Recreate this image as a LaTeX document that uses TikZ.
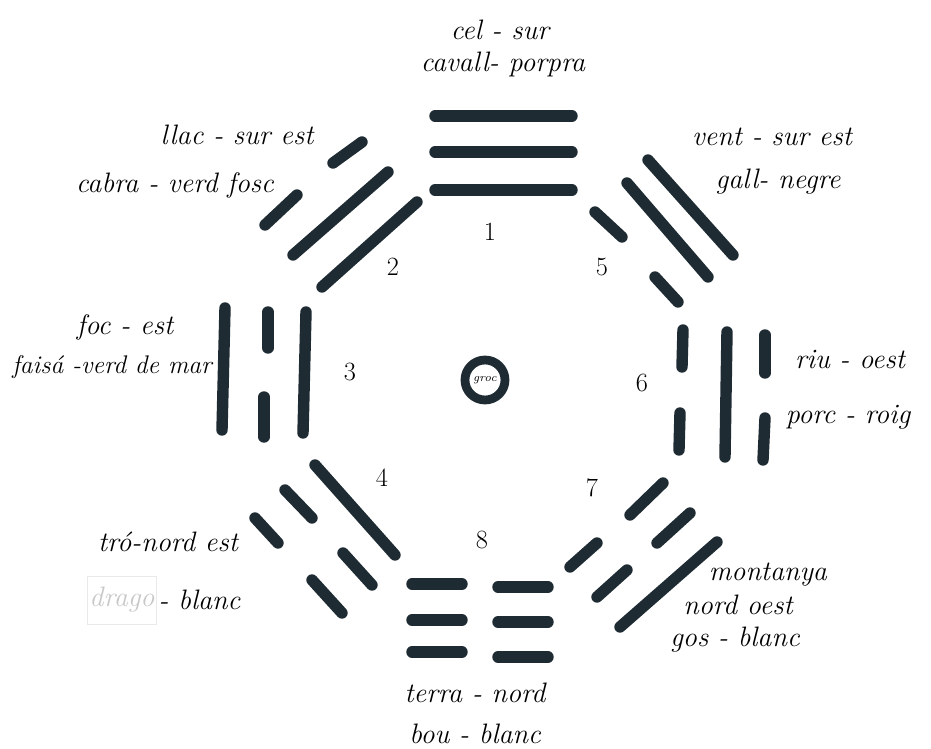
\documentclass[tikz,border=0pt]{standalone}
\usepackage{tikz}
\usetikzlibrary{positioning}
\definecolor{inkDark}{HTML}{1F2B33}
\definecolor{fadedGray}{HTML}{C8C8C8}

\begin{document}
\begin{tikzpicture}[x=0.02cm, y=-0.02cm,
    bar/.style={draw=inkDark, line width=6.5pt, line cap=round},
    lbl/.style={font=\fontsize{16}{19}\selectfont\itshape, inner sep=1pt},
    num/.style={font=\fontsize{15}{18}\selectfont, inner sep=1pt},
    centre/.style={circle, draw=inkDark, line width=5pt, minimum size=40*0.02cm,
      inner sep=0pt, font=\fontsize{6.5}{8}\selectfont\itshape}]
    \useasboundingbox (0,0) rectangle (931,749);
    % cel (1)
    \draw[bar] (435,116) -- (572,116);
    \draw[bar] (435,152) -- (572,152);
    \draw[bar] (435,190) -- (572,190);
    % llac (2)
    \draw[bar] (362,142) -- (333,163);
    \draw[bar] (297,195) -- (265,225);
    \draw[bar] (388,172) -- (293,255);
    \draw[bar] (417,202) -- (322,287);
    % foc (3)
    \draw[bar] (225,308) -- (222,430);
    \draw[bar] (268,312) -- (268,348);
    \draw[bar] (264,397) -- (264,437);
    \draw[bar] (306,312) -- (303,433);
    % vent (5)
    \draw[bar] (648,160) -- (733,255);
    \draw[bar] (627,183) -- (708,277);
    \draw[bar] (595,212) -- (622,237);
    \draw[bar] (655,277) -- (678,302);
    % riu (6)
    \draw[bar] (683,330) -- (682,367);
    \draw[bar] (680,413) -- (679,450);
    \draw[bar] (727,332) -- (725,457);
    \draw[bar] (765,335) -- (765,373);
    \draw[bar] (765,418) -- (763,460);
    % tro (4)
    \draw[bar] (315,465) -- (395,555);
    \draw[bar] (285,490) -- (312,518);
    \draw[bar] (343,553) -- (372,585);
    \draw[bar] (255,518) -- (278,543);
    \draw[bar] (312,580) -- (342,613);
    % montanya (7)
    \draw[bar] (663,483) -- (630,515);
    \draw[bar] (597,543) -- (570,567);
    \draw[bar] (690,513) -- (657,543);
    \draw[bar] (627,570) -- (597,597);
    \draw[bar] (717,542) -- (620,627);
    % terra (8)
    \draw[bar] (412,584) -- (462,584);
    \draw[bar] (412,620) -- (462,620);
    \draw[bar] (412,652) -- (462,652);
    \draw[bar] (498,587) -- (548,587);
    \draw[bar] (498,622) -- (548,622);
    \draw[bar] (498,657) -- (548,657);

    \node[centre] (groc) at (485,380) {groc};

    \node[num] (n1) at (490,232) {1};
    \node[num] (n2) at (393,267) {2};
    \node[num] (n3) at (350,372) {3};
    \node[num] (n4) at (382,478) {4};
    \node[num] (n5) at (602,267) {5};
    \node[num] (n6) at (642,383) {6};
    \node[num] (n7) at (592,488) {7};
    \node[num] (n8) at (482,540) {8};

    \node[lbl] (cel) at (500,30) {cel - sur};
    \node[lbl] (cavall) at (503,64) {cavall- porpra};
    \node[lbl] (llac) at (237,135) {llac - sur est};
    \node[lbl] (cabra) at (175,185) {cabra - verd fosc};
    \node[lbl] (vent) at (772,137) {vent - sur est};
    \node[lbl] (gall) at (778,182) {gall- negre};
    \node[lbl] (foc) at (125,327) {foc - est};
    \node[lbl, font=\fontsize{14.5}{17}\selectfont\itshape] (faisa) at (112,367) {faisá -verd de mar};
    \node[lbl] (riu) at (850,360) {riu - oest};
    \node[lbl] (porc) at (848,417) {porc - roig};
    \node[lbl] (tro) at (168,542) {tró-nord est};
    \node[lbl, fill=white, draw=fadedGray!40, text=fadedGray, minimum height=48*0.02cm]
      (drago) at (122,600) {drago};
    \node[lbl, right=0pt of drago] (blanc4) {- blanc};
    \node[lbl] (terra) at (475,693) {terra - nord};
    \node[lbl] (bou) at (475,734) {bou - blanc};
    \node[lbl] (montanya) at (768,575) {montanya};
    \node[lbl] (nordoest) at (738,605) {nord oest};
    \node[lbl] (gos) at (735,640) {gos - blanc};
  \end{tikzpicture}
\end{document}
